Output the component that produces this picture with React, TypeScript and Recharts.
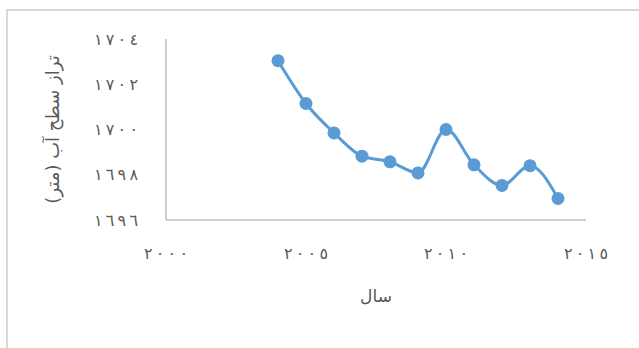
import React from "react";
import { LineChart, Line, XAxis, YAxis, Label } from "recharts";

const years = [2004, 2005, 2006, 2007, 2008, 2009, 2010, 2011, 2012, 2013, 2014];
const levels = [1703.04, 1701.15, 1699.85, 1698.82, 1698.57, 1698.08, 1700.0, 1698.44, 1697.53, 1698.4, 1696.95];

const xTicks = [2000, 2005, 2010, 2015];
const yTicks = [1696, 1698, 1700, 1702, 1704];

const xTitle = "سال";
const yTitle = "تراز سطح آب (متر)";

const arabicDigits = ["٠", "١", "٢", "٣", "٤", "٥", "٦", "٧", "٨", "٩"];
// thin spaces between digits (letter-spacing is dropped for Arabic script),
// LRM marks keep the digits in left-to-right order
const toArabic = (n: number) =>
  "\u200E" +
  String(n)
    .split("")
    .map((d) => arabicDigits[Number(d)] ?? d)
    .join("\u2009\u200E");

const data = years.map((year, i) => ({ year, level: levels[i] }));

const textColor = "#595959";
const font = "'DejaVu Sans', sans-serif";
const tickStyle = { fill: textColor, fontSize: 16, fontFamily: font };

export default function App() {
  return (
    <div style={{ position: "absolute", left: 0, top: 0, width: 639, height: 348, background: "#fff", overflow: "hidden" }}>
      <style>{"body{margin:0}"}</style>
      <div
        style={{
          position: "absolute",
          left: 6,
          top: 9,
          width: 700,
          height: 400,
          border: "1px solid #D9D9D9",
          borderWidth: "2px 0 0 2px",
        }}
      />
      <div style={{ position: "absolute", left: 0, top: 0 }}>
        <LineChart width={639} height={348} data={data} margin={{ top: 39, right: 53, left: 0, bottom: 0 }}>
          <XAxis
            dataKey="year"
            type="number"
            domain={[2000, 2015]}
            ticks={xTicks}
            tickFormatter={toArabic}
            tickLine={false}
            axisLine={{ stroke: "#BFBFBF", strokeWidth: 1.5 }}
            tick={tickStyle}
            tickMargin={22}
            height={128}
          >
            <Label value={xTitle} position="insideTop" offset={70} fill={textColor} fontSize={17} fontFamily={font} />
          </XAxis>
          <YAxis
            type="number"
            domain={[1696, 1704]}
            ticks={yTicks}
            tickFormatter={toArabic}
            tickLine={false}
            axisLine={{ stroke: "#BFBFBF", strokeWidth: 1.5 }}
            tick={tickStyle}
            tickMargin={22}
            width={166}
          >
            <Label value={yTitle} angle={-90} position="insideLeft" offset={53} fill={textColor} fontSize={18} fontFamily={font} style={{ textAnchor: "middle" }} />
          </YAxis>
          <Line
            type="monotone"
            dataKey="level"
            stroke="#5B9BD5"
            strokeWidth={3}
            dot={{ r: 6.5, fill: "#5B9BD5", stroke: "#5B9BD5", strokeWidth: 0 }}
            activeDot={false}
            isAnimationActive={false}
          />
        </LineChart>
      </div>
    </div>
  );
}
